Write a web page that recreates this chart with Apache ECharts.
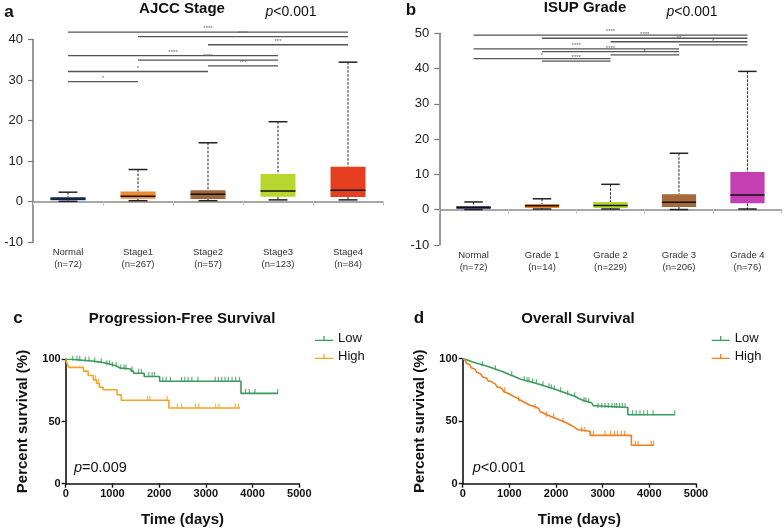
<!DOCTYPE html>
<html>
<head>
<meta charset="utf-8">
<script src="https://cdn.jsdelivr.net/npm/echarts@6/dist/echarts.min.js"></script>
<style>html,body{margin:0;padding:0;background:#fff;}#chart{width:784px;height:530px;}</style>
</head>
<body>
<div id="chart"></div>
<script>
// ---------- Panel a: AJCC Stage ----------
const aCats = ['Normal', 'Stage1', 'Stage2', 'Stage3', 'Stage4'];
const aCounts = [72, 267, 57, 123, 84];
// [min, q1, median, q3, max]
const aBoxes = [
  [0.05, 0.3, 0.6, 1.1, 2.3],
  [0.2, 0.7, 1.3, 2.5, 7.9],
  [0.2, 0.6, 1.8, 2.8, 14.5],
  [0.4, 1.2, 2.6, 6.8, 19.7],
  [0.4, 1.1, 2.8, 8.6, 34.4]
];
const aColors = ['#3d5ea8', '#ee8a33', '#a0663a', '#b8d62b', '#e53e20'];
// [from, to, y, stars]
const aSig = [
  ['Normal', 'Stage4', 41.8, '****'],
  ['Stage1', 'Stage4', 40.7, '****'],
  ['Stage2', 'Stage4', 38.7, '***'],
  ['Normal', 'Stage3', 36.0, '****'],
  ['Stage1', 'Stage3', 34.9, '****'],
  ['Stage2', 'Stage3', 33.5, '***'],
  ['Normal', 'Stage2', 32.1, '*'],
  ['Normal', 'Stage1', 29.6, '*']
];

// ---------- Panel b: ISUP Grade ----------
const bCats = ['Normal', 'Grade 1', 'Grade 2', 'Grade 3', 'Grade 4'];
const bCounts = [72, 14, 229, 206, 76];
const bBoxes = [
  [0.05, 0.3, 0.6, 1.0, 2.2],
  [0.2, 0.5, 1.1, 1.6, 3.1],
  [0.2, 0.5, 1.2, 2.2, 7.2],
  [0.05, 0.8, 2.1, 4.4, 16.0],
  [0.2, 1.8, 4.2, 10.7, 39.2]
];
const bColors = ['#1f2f6b', '#ef8a2a', '#b5d92a', '#a8693a', '#c43fb2'];
const bSig = [
  ['Normal', 'Grade 4', 49.5, '****'],
  ['Grade 1', 'Grade 4', 48.6, '****'],
  ['Grade 2', 'Grade 4', 47.6, '**'],
  ['Grade 3', 'Grade 4', 46.7, '*'],
  ['Normal', 'Grade 3', 45.6, '****'],
  ['Grade 1', 'Grade 3', 44.8, '****'],
  ['Grade 2', 'Grade 3', 43.9, '*'],
  ['Normal', 'Grade 2', 42.8, '*'],
  ['Grade 1', 'Grade 2', 42.1, '****']
];

// ---------- Panel c: Progression-Free Survival (time, % survival) ----------
const cLow = [[0,100],[120,99.3],[330,98.6],[560,97.9],[700,97.2],[830,95.6],[1000,94.4],[1100,93],[1160,92.2],[1400,90.5],[1450,88.8],[1680,86.2],[2010,82.3],[3752,72.6],[4537,72.6]];
const cHigh = [[0,100],[30,96.5],[70,93.5],[380,90.5],[480,87],[590,83.5],[660,80.5],[720,77.5],[800,75.5],[1100,71.5],[1190,67.1],[2210,60.8],[3730,60.8]];
const cLowCens = [150,240,300,420,500,620,760,880,940,1000,1080,1180,1250,1290,1420,1560,1620,1780,1850,1900,2080,2150,2240,2480,2550,2620,2700,2830,3200,3270,3340,3410,3480,3560,3640,3720,3850,3930,4050,4537];
const cHighCens = [640,700,1750,1800,2170,2390,2480,2780,2850,3210,3280,3630,3700];

// ---------- Panel d: Overall Survival ----------
const dLow = [[0,100],[30,99.2],[80,98.4],[140,97.6],[200,96.8],[270,96],[340,95.2],[420,94.4],[490,93.6],[560,92.8],[620,92],[680,91.2],[740,90.4],[800,89.6],[860,88.8],[910,88],[960,87.2],[1010,86.4],[1070,85.6],[1120,84.8],[1170,84],[1220,83.2],[1290,82.4],[1360,81.6],[1450,80.8],[1530,80],[1600,79.2],[1680,78.4],[1740,77.6],[1810,76.8],[1880,76],[1950,75.2],[2010,74.4],[2070,73.6],[2130,72.8],[2190,72],[2250,71.2],[2310,70.4],[2370,69.6],[2420,68.8],[2460,68],[2500,67.2],[2540,66.4],[2600,65.6],[2680,64.8],[2760,63.2],[2800,62.4],[2850,61],[3540,55.2],[4545,55.2]];
const dHigh = [[0,100],[20,98.8],[50,97.6],[80,96.4],[110,95.2],[150,94],[180,92.8],[220,91.6],[260,90.4],[300,89.2],[340,88],[380,86.8],[420,85.6],[460,84.4],[510,83.2],[550,82],[600,80.8],[650,79.6],[700,78.4],[740,77.2],[790,76],[840,74.8],[880,73.6],[920,72.4],[970,71.2],[1030,70],[1090,68.8],[1150,67.6],[1200,66.4],[1260,65.2],[1320,64],[1380,62.8],[1440,61.6],[1550,60.4],[1620,59.2],[1660,57.6],[1700,56.4],[1740,55.2],[1800,54],[1880,52.8],[1960,51.6],[2040,50.4],[2120,49.2],[2200,48],[2260,46.8],[2320,45.6],[2370,44.4],[2420,43.2],[2480,42],[2730,38.7],[3615,30.8],[4086,30.8]];
const dLowCens = [420,700,1050,1320,1380,1420,1500,1580,1720,1850,1900,1960,2100,2250,2400,2600,2640,2700,2900,2980,3050,3120,3200,3260,3300,3360,3420,3480,3640,3720,3800,3880,3960,4080,4545];
const dHighCens = [900,1200,1550,1800,1950,2150,2550,2620,2800,3050,3170,3250,3320,3400,3470,3700,3760,4040,4086];

const FONT = 'Liberation Sans, Arial, Helvetica, sans-serif';

function survAt(curve, t) {
  let s = curve[0][1];
  for (const p of curve) { if (p[0] <= t) s = p[1]; }
  return s;
}

function boxRender(colors) {
  return function (params, api) {
    const i = api.value(0);
    const mn = api.value(1), q1 = api.value(2), md = api.value(3), q3 = api.value(4), mx = api.value(5);
    const band = api.size([1, 0])[0];
    const w = band * 0.5, cw = band * 0.27;
    const pMn = api.coord([i, mn]), pQ1 = api.coord([i, q1]), pMd = api.coord([i, md]), pQ3 = api.coord([i, q3]), pMx = api.coord([i, mx]);
    const x = pMd[0];
    const dash = { stroke: '#222', lineWidth: 1, lineDash: [2.5, 1.5] };
    const solid = { stroke: '#222', lineWidth: 1.5 };
    return {
      type: 'group',
      children: [
        { type: 'line', shape: { x1: x, y1: pMx[1], x2: x, y2: pQ3[1] }, style: dash },
        { type: 'line', shape: { x1: x, y1: pQ1[1], x2: x, y2: pMn[1] }, style: dash },
        { type: 'line', shape: { x1: x - cw / 2, y1: pMx[1], x2: x + cw / 2, y2: pMx[1] }, style: solid },
        { type: 'line', shape: { x1: x - cw / 2, y1: pMn[1], x2: x + cw / 2, y2: pMn[1] }, style: solid },
        { type: 'rect', shape: { x: x - w / 2, y: pQ3[1], width: w, height: Math.max(pQ1[1] - pQ3[1], 1) }, style: { fill: colors[params.dataIndex], stroke: null } },
        { type: 'line', shape: { x1: x - w / 2, y1: pMd[1], x2: x + w / 2, y2: pMd[1] }, style: { stroke: '#111', lineWidth: 1.5 } }
      ]
    };
  };
}

function sigRender(sig, cats) {
  return function (params, api) {
    const s = sig[params.dataIndex];
    const a = api.coord([cats.indexOf(s[0]), s[2]]);
    const b = api.coord([cats.indexOf(s[1]), s[2]]);
    return {
      type: 'group',
      children: [
        { type: 'line', shape: { x1: a[0], y1: a[1], x2: b[0], y2: b[1] }, style: { stroke: '#555', lineWidth: 1.3 } },
        { type: 'text', x: (a[0] + b[0]) / 2, y: a[1] - 0.5, style: { text: s[3], fill: '#666', font: '6px ' + FONT, align: 'center', verticalAlign: 'bottom' } }
      ]
    };
  };
}

function boxXAxis(gridIndex, cats, counts) {
  return {
    gridIndex, type: 'category', data: cats,
    axisLine: { lineStyle: { color: '#8a8a8a', width: 1.5 } },
    axisTick: { show: true, length: 4, lineStyle: { color: '#c4c4c4' } },
    axisLabel: { interval: 0, formatter: (v, i) => v + '\n(n=' + counts[i] + ')', fontSize: 9.5, lineHeight: 12, color: '#333', margin: 4, fontFamily: FONT }
  };
}
function boxYAxis(gridIndex, max) {
  return {
    gridIndex, type: 'value', min: -10, max: max, interval: 10,
    axisLine: { show: true, lineStyle: { color: '#777', width: 1.5 } },
    axisTick: { show: true, length: 5, lineStyle: { color: '#777', width: 1.2 } },
    splitLine: { show: false },
    axisLabel: { fontSize: 13, color: '#222', margin: 10, fontFamily: FONT }
  };
}
function kmXAxis(gridIndex) {
  return {
    gridIndex, type: 'value', min: 0, max: 5000, interval: 1000,
    axisLine: { lineStyle: { color: '#111', width: 1.6 } },
    axisTick: { length: 4, lineStyle: { color: '#111', width: 1.4 } },
    splitLine: { show: false },
    axisLabel: { fontSize: 11, fontWeight: 'bold', color: '#111', margin: 5, fontFamily: FONT, formatter: v => String(v) },
    name: 'Time (days)', nameLocation: 'middle', nameGap: 29,
    nameTextStyle: { fontSize: 15, fontWeight: 'bold', color: '#111', fontFamily: FONT }
  };
}
function kmYAxis(gridIndex) {
  return {
    gridIndex, type: 'value', min: 0, max: 100, interval: 50,
    axisLine: { show: true, lineStyle: { color: '#111', width: 1.6 } },
    axisTick: { show: true, length: 4, lineStyle: { color: '#111', width: 1.4 } },
    splitLine: { show: false },
    axisLabel: { fontSize: 11, fontWeight: 'bold', color: '#111', margin: 5, fontFamily: FONT, formatter: v => String(v) },
    name: 'Percent survival (%)', nameLocation: 'middle', nameRotate: 90, nameGap: 35,
    nameTextStyle: { fontSize: 15, fontWeight: 'bold', color: '#111', fontFamily: FONT }
  };
}

function kmSeries(name, curve, cens, color, axisIdx) {
  return [
    { name: name, type: 'line', xAxisIndex: axisIdx, yAxisIndex: axisIdx, step: 'end', data: curve, showSymbol: false, symbol: 'none',
      lineStyle: { color: color, width: 1.6 }, itemStyle: { color: color } },
    { name: name + ' censored', type: 'scatter', xAxisIndex: axisIdx, yAxisIndex: axisIdx,
      data: cens.map(t => [t, survAt(curve, t)]), symbol: 'rect', symbolSize: [1.2, 5], symbolOffset: [0, -2],
      itemStyle: { color: color } }
  ];
}

const legendIcon = 'path://M0,6 L20,6 L20,7.5 L0,7.5 Z M9.3,2 L10.7,2 L10.7,7 L9.3,7 Z';
const cGreen = '#3b9a5c', cOrange = '#f5a324', dGreen = '#3b9a5f', dOrange = '#f07f1e';

function txt(x, y, text, size, opts) {
  return { type: 'text', x: x, y: y, style: { text: text, font: (opts && opts.bold ? 'bold ' : '') + size + 'px ' + FONT, fill: '#111', align: 'center', verticalAlign: 'middle' } };
}
function ptxt(x, y, text, size, align) {
  return { type: 'text', x: x, y: y, style: { text: text, rich: { i: { fontStyle: 'italic', fontSize: size, fontFamily: FONT, fill: '#111' }, n: { fontSize: size, fontFamily: FONT, fill: '#111' } }, align: align || 'center', verticalAlign: 'middle' } };
}

const chart = echarts.init(document.getElementById('chart'), null, { renderer: 'canvas' });
chart.setOption({
  animation: false,
  backgroundColor: '#fff',
  grid: [
    { left: 33, top: 39.5, width: 350, height: 202.5 },
    { left: 439.3, top: 33.3, width: 342.4, height: 211.7 },
    { left: 65.7, top: 359.3, width: 233.6, height: 124.4 },
    { left: 462.7, top: 358.7, width: 233.3, height: 125 }
  ],
  xAxis: [boxXAxis(0, aCats, aCounts), boxXAxis(1, bCats, bCounts), kmXAxis(2), kmXAxis(3)],
  yAxis: [boxYAxis(0, 40), boxYAxis(1, 50), kmYAxis(2), kmYAxis(3)],
  legend: [
    { left: 315, top: 332, orient: 'vertical', padding: 0, itemGap: 5, itemWidth: 18, itemHeight: 8, icon: legendIcon,
      textStyle: { fontSize: 13, color: '#111', fontFamily: FONT },
      data: [{ name: 'Low', itemStyle: { color: cGreen } }, { name: 'High', itemStyle: { color: cOrange } }] },
    { left: 711.7, top: 332, orient: 'vertical', padding: 0, itemGap: 5, itemWidth: 18, itemHeight: 8, icon: legendIcon,
      textStyle: { fontSize: 13, color: '#111', fontFamily: FONT },
      data: [{ name: 'Low', itemStyle: { color: dGreen } }, { name: 'High', itemStyle: { color: dOrange } }] }
  ],
  graphic: [
    txt(9, 12.5, 'a', 17, { bold: true }),
    txt(182, 8.5, 'AJCC Stage', 15, { bold: true }),
    ptxt(291, 12, '{i|p}{n|<0.001}', 14),
    txt(411, 10.5, 'b', 17, { bold: true }),
    txt(585, 7.5, 'ISUP Grade', 15, { bold: true }),
    ptxt(692, 12, '{i|p}{n|<0.001}', 14),
    txt(18, 318, 'c', 17, { bold: true }),
    txt(182, 319, 'Progression-Free Survival', 15, { bold: true }),
    ptxt(74, 468, '{i|p}{n|=0.009}', 14.5, 'left'),
    txt(419, 318, 'd', 17, { bold: true }),
    txt(578, 319, 'Overall Survival', 15, { bold: true }),
    ptxt(472.7, 468, '{i|p}{n|<0.001}', 14.5, 'left')
  ],
  series: [
    { type: 'custom', xAxisIndex: 0, yAxisIndex: 0, renderItem: sigRender(aSig, aCats), data: aSig.map(s => [s[0], s[2]]), silent: true },
    { type: 'custom', xAxisIndex: 0, yAxisIndex: 0, renderItem: boxRender(aColors), encode: { x: 0, y: [1, 2, 3, 4, 5] },
      data: aBoxes.map((b, i) => [aCats[i]].concat(b)) },
    { type: 'custom', xAxisIndex: 1, yAxisIndex: 1, renderItem: sigRender(bSig, bCats), data: bSig.map(s => [s[0], s[2]]), silent: true },
    { type: 'custom', xAxisIndex: 1, yAxisIndex: 1, renderItem: boxRender(bColors), encode: { x: 0, y: [1, 2, 3, 4, 5] },
      data: bBoxes.map((b, i) => [bCats[i]].concat(b)) }
  ].concat(
    kmSeries('Low', cLow, cLowCens, cGreen, 2),
    kmSeries('High', cHigh, cHighCens, cOrange, 2),
    kmSeries('Low', dLow, dLowCens, dGreen, 3),
    kmSeries('High', dHigh, dHighCens, dOrange, 3)
  )
});
</script>
</body>
</html>
